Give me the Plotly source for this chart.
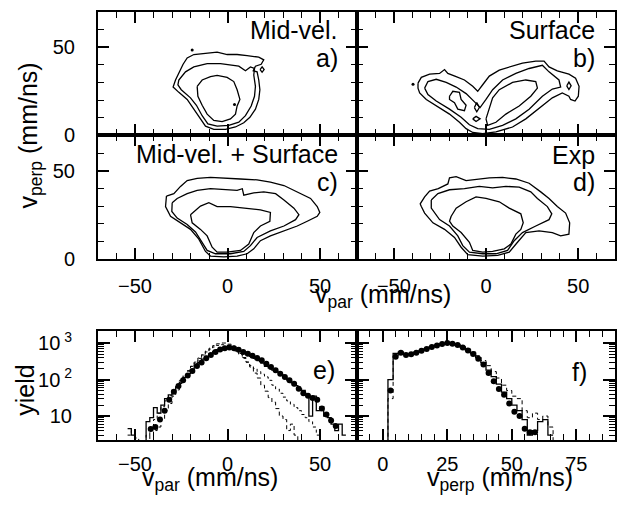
import plotly.graph_objects as go

# ---------------- contour data (v_par, v_perp) in mm/ns ----------------
a_outer = [(-24.0,40.3),(-21.8,43.9),(-18.2,45.8),(-12.8,46.5),(-5.6,47.1),(-0.2,45.8),(5.2,45.8),(10.6,45.2),
           (16.9,44.3),(19.6,42.8),(18.2,40.3),(15.1,39.2),(13.9,36.6),(16.0,36.0),(16.9,31.4),(17.5,25.9),
           (16.9,20.4),(15.1,14.9),(12.1,10.3),(8.8,7.2),(4.3,4.8),(-1.1,3.5),(-7.4,3.5),(-11.9,5.3),(-14.6,9.4),
           (-17.8,14.9),(-21.8,20.4),(-26.3,24.4),(-29.4,27.4),(-28.1,31.4),(-25.8,36.0)]
a_mid = [(-26.3,31.4),(-22.7,36.0),(-18.2,38.8),(-11.0,40.6),(-3.8,40.6),(1.6,39.7),(6.1,39.2),(9.7,36.6),
         (12.4,38.8),(14.6,37.9),(14.2,34.2),(15.1,27.8),(14.6,22.2),(12.8,16.7),(9.7,11.2),(6.1,7.5),(0.7,5.7),
         (-5.6,5.3),(-10.6,6.6),(-13.7,11.2),(-16.8,17.1),(-20.0,21.3),(-25.0,25.9),(-26.8,28.7)]
a_inner = [(-16.4,27.8),(-13.7,31.4),(-9.2,33.3),(-5.6,34.0),(-0.2,32.9),(3.4,30.5),(5.2,25.9),(6.7,20.4),
           (5.2,16.7),(4.3,12.1),(1.6,9.4),(-2.9,7.9),(-7.4,8.5),(-11.0,12.1),(-13.7,17.1),(-16.0,22.2)]
a_bubble = [(17.6,37.3),(18.7,38.8),(19.8,37.3),(18.7,35.8)]
a_dots = [(3.8,17.5),(-19.1,48.3)]

b_outer = [(-36.9,29.6),(-35.1,32.9),(-30.6,34.7),(-25.2,35.1),(-22.5,37.3),(-20.7,35.1),(-16.2,33.3),(-11.7,31.4),
           (-7.2,27.8),(-4.5,25.0),(-1.8,28.7),(1.8,33.6),(7.2,37.0),(14.4,39.2),(19.8,41.0),(27.0,42.1),(31.5,42.1),
           (34.2,38.8),(38.7,36.6),(45.0,34.7),(48.6,32.4),(50.5,27.8),(50.1,22.2),(48.3,19.5),(45.9,20.4),(45.0,22.2),
           (41.4,24.1),(36.0,21.3),(28.8,15.1),(21.6,9.4),(14.4,4.8),(5.4,2.0),(-1.8,1.1),(-7.2,1.7),(-10.8,3.9),
           (-14.4,7.5),(-19.8,12.1),(-27.0,16.7),(-32.4,20.4),(-36.0,24.1),(-36.9,26.8)]
b_mid = [(-33.3,26.8),(-31.5,30.5),(-27.0,31.8),(-21.6,30.0),(-16.2,27.4),(-10.8,23.7),(-5.8,18.6),(-3.2,15.8),
         (0.0,20.4),(3.6,25.9),(9.0,31.4),(16.2,35.1),(23.4,37.9),(30.6,39.7),(34.2,36.0),(39.6,31.4),(40.5,27.4),
         (36.0,26.3),(30.6,22.2),(23.4,14.9),(16.2,9.4),(9.0,5.7),(1.8,3.5),(-4.5,3.9),(-9.0,6.1),(-13.5,10.3),
         (-19.8,14.9),(-27.0,19.5),(-31.5,23.2)]
b_inner_left = [(-19.8,22.2),(-18.0,25.0),(-14.4,24.4),(-13.5,20.4),(-10.8,17.1),(-11.7,14.0),(-15.3,14.9),
                (-17.1,18.6),(-19.8,20.4)]
b_diamond = [(-6.3,15.8),(-5.0,18.6),(-3.6,15.8),(-5.0,13.4)]
b_oval = [(-7.2,9.4),(-5.4,10.8),(-3.2,9.4),(-5.4,7.9)]
b_inner_right = [(0.0,9.4),(1.8,14.9),(3.6,21.3),(7.2,25.9),(14.4,30.0),(21.6,31.4),(27.0,30.5),(27.9,26.8),
                 (24.3,22.2),(18.0,16.7),(10.8,12.1),(5.4,7.5),(0.9,5.7)]
b_ring = [(43.8,28.1),(45.0,30.2),(46.2,28.1),(45.0,26.0)]
b_dots = [(-39.6,29.0)]

c_outer = [(-33.0,35.7),(-33.5,29.8),(-30.8,24.3),(-25.4,20.6),(-20.0,16.9),(-15.5,11.4),(-11.9,4.4),(-9.2,1.8),
           (-2.0,1.3),(5.2,1.8),(10.6,3.1),(14.2,5.9),(17.8,10.5),(23.2,13.2),(30.5,16.0),(37.7,18.8),(43.1,21.5),
           (48.5,24.3),(49.9,26.5),(48.5,29.8),(44.9,34.4),(41.3,36.2),(35.9,39.0),(30.5,41.7),(23.2,43.6),
           (16.0,44.9),(7.0,45.4),(-2.0,45.9),(-9.2,46.3),(-16.4,45.8),(-21.8,44.5),(-25.4,41.2),(-29.0,37.1)]
c_mid = [(-29.9,32.0),(-30.1,27.0),(-27.2,23.3),(-21.8,19.7),(-17.3,15.4),(-14.2,10.5),(-11.0,5.0),(-6.5,3.1),
         (1.6,3.1),(8.8,4.4),(12.4,7.7),(16.0,12.3),(23.2,16.0),(30.5,18.8),(36.8,22.4),(38.6,25.2),(35.9,28.9),
         (30.5,33.5),(26.0,37.1),(19.6,38.1),(14.2,37.5),(8.8,36.2),(8.0,39.9),(5.2,39.0),(-2.0,39.3),(-9.2,39.9),
         (-16.4,39.0),(-21.8,37.1),(-27.2,34.4)]
c_inner = [(-20.0,25.2),(-17.3,27.9),(-14.6,30.1),(-10.1,32.0),(-5.6,29.8),(1.6,29.8),(8.8,28.9),(17.8,27.9),
           (23.2,26.5),(22.9,21.5),(17.8,18.8),(14.2,15.1),(11.5,8.6),(7.0,5.0),(-0.2,4.0),(-5.6,4.0),(-8.3,6.8),
           (-11.0,13.2),(-14.6,16.9),(-19.1,20.6)]

d_outer = [(-35.1,29.8),(-33.3,26.1),(-28.8,20.6),(-22.5,16.9),(-17.1,12.3),(-13.5,6.8),(-9.9,2.6),(-1.8,1.8),
           (6.3,2.2),(12.6,4.0),(17.1,9.6),(21.6,15.1),(28.8,16.0),(36.0,15.1),(40.5,13.2),(45.0,14.2),(45.4,20.6),
           (43.2,26.1),(38.7,29.8),(34.2,34.4),(29.7,38.1),(23.4,43.0),(16.2,45.4),(9.0,46.3),(1.8,46.0),(-4.5,45.4),
           (-10.8,44.5),(-16.2,46.7),(-19.8,46.0),(-20.7,42.6),(-25.9,39.9),(-30.6,38.6),(-33.3,35.3),(-35.7,31.3)]
d_mid = [(-29.7,33.5),(-29.7,28.9),(-25.2,22.4),(-19.8,18.8),(-15.3,13.2),(-12.6,7.7),(-9.0,4.0),(-1.8,3.1),
         (5.4,3.1),(11.7,5.0),(15.3,10.5),(19.8,15.1),(27.0,18.8),(34.2,22.4),(35.7,25.7),(33.3,29.8),(27.9,34.4),
         (24.3,38.1),(18.0,40.8),(10.8,41.2),(3.6,40.4),(-3.6,41.2),(-11.7,39.9),(-19.8,39.3),(-26.1,37.1)]
d_inner = [(-18.9,24.3),(-16.2,28.9),(-10.8,32.5),(-5.4,35.3),(0.0,34.4),(7.2,32.5),(12.6,28.9),(18.9,25.7),
           (20.2,20.6),(18.9,16.9),(16.2,14.2),(13.5,8.6),(9.9,5.9),(3.6,4.4),(-1.8,4.0),(-7.2,5.0),(-9.0,9.6),
           (-13.5,15.1),(-18.0,18.8),(-19.8,21.5)]

# ---------------- 1D spectra ----------------
e_dot_x = [-41.5,-39,-36.5,-34,-31.5,-29,-26.5,-24,-21.5,-19,-16.5,-14,-11.5,-9,-6.5,-4,-1.5,1,3.5,6,8.5,11,
           13.5,16,18.5,21,23.5,26,28.5,31,33.5,36,38.5,41,43.5,46,48.5,51,53.5,56,58.5]
e_dot_y = [4.4,5,8,14,28,46,66,95,128,170,235,295,380,470,570,660,720,750,720,650,570,510,450,390,340,270,220,
           180,145,118,95,77,56,42,36,31,28,16,11,7.5,5.3]

e_solid_lo = -54
e_solid = [4.5,3,1,1,1,7,9,17,12,20,30,38,50,62,85,115,145,190,240,290,360,430,510,590,660,700,740,
           750,720,660,600,540,480,430,380,330,280,230,210,180,160,135,115,98,82,68,55,50,40,10,35,14,18,10,9,6,4,6,3]
e_dash_lo = -46
e_dash = [1,1,3,4,5,8,14,22,35,52,78,120,170,230,300,390,480,600,720,850,950,1000,1000,
          930,820,680,520,400,300,220,150,110,70,48,32,24,16,10,8,4,6,3,1]
e_dot_lo = -54
e_dotted = [3,4,2.5,1,1,3,5,8,12,18,26,36,50,70,95,130,175,230,300,380,470,570,680,780,860,900,880,
            820,720,600,480,380,300,240,200,165,140,118,95,70,55,42,33,26,21,17,14,11,9,7,5,3,1]

f_dot_x = [3,5,7,9,11,13,15,17,19,21,23,25,27,29,31,33,35,37,39,41,43,45,47,49,51,53,55,57,59]
f_dot_y = [50,420,540,470,490,540,610,690,780,860,940,1000,960,880,760,620,500,370,260,150,90,55,38,22,13,10,
           4.5,3.6,3.6]
f_solid_lo = 0
f_solid = [1,100,520,560,500,500,560,620,700,790,870,950,1000,960,880,760,640,520,400,290,180,120,75,45,30,
           20,14,8,3,4,7,8,3]
f_dash_lo = 0
f_dash = [1,30,450,520,480,480,530,600,680,770,860,940,980,960,900,800,690,570,450,330,240,165,110,70,50,35,
          30,14,9,12,8,10,5,1]
bin_width = 2

FONT = "Liberation Sans, Arial, sans-serif"
BLACK = "black"

fig = go.Figure()

def add_path(pts, ax, closed=True, width=1.3):
    xs = [p[0] for p in pts]
    ys = [p[1] for p in pts]
    if closed:
        xs = xs + xs[:1]
        ys = ys + ys[:1]
    fig.add_trace(go.Scatter(x=xs, y=ys, mode="lines", line=dict(color=BLACK, width=width),
                             xaxis="x" + ax, yaxis="y" + ax, showlegend=False, hoverinfo="skip"))

def add_dots(pts, ax, size=3):
    fig.add_trace(go.Scatter(x=[p[0] for p in pts], y=[p[1] for p in pts], mode="markers",
                             marker=dict(color=BLACK, size=size), xaxis="x" + ax, yaxis="y" + ax,
                             showlegend=False, hoverinfo="skip"))

for pts in (a_outer, a_mid, a_inner, a_bubble):
    add_path(pts, "")
add_dots(a_dots, "")
for pts in (b_outer, b_mid, b_inner_left, b_diamond, b_oval, b_inner_right, b_ring):
    add_path(pts, "2")
add_dots(b_dots, "2")
for pts in (c_outer, c_mid, c_inner):
    add_path(pts, "3")
for pts in (d_outer, d_mid, d_inner):
    add_path(pts, "4")

def add_step(lo, vals, ax, dash, width=1.2):
    xs = [lo + bin_width * i for i in range(len(vals) + 1)]
    ys = list(vals) + [vals[-1]]
    fig.add_trace(go.Scatter(x=xs, y=ys, mode="lines", line=dict(color=BLACK, width=width, dash=dash, shape="hv"),
                             xaxis="x" + ax, yaxis="y" + ax, showlegend=False, hoverinfo="skip"))

add_step(e_dot_lo, e_dotted, "5", "dot", 1.0)
add_step(e_dash_lo, e_dash, "5", "4px,3px", 1.0)
add_step(e_solid_lo, e_solid, "5", "solid", 1.3)
fig.add_trace(go.Scatter(x=e_dot_x, y=e_dot_y, mode="markers", marker=dict(color=BLACK, size=6),
                         xaxis="x5", yaxis="y5", showlegend=False))
add_step(f_dash_lo, f_dash, "6", "4px,3px", 1.0)
add_step(f_solid_lo, f_solid, "6", "solid", 1.3)
fig.add_trace(go.Scatter(x=f_dot_x, y=f_dot_y, mode="markers", marker=dict(color=BLACK, size=6),
                         xaxis="x6", yaxis="y6", showlegend=False))

# ---------------- axes ----------------
XL, XM, XR = 98 / 618, 357 / 618, 615 / 618
R1 = [1 - 137 / 508, 1 - 10 / 508]
R2 = [1 - 264 / 508, 1 - 137 / 508]
R3 = [1 - 450 / 508, 1 - 338 / 508]
tickfont = dict(family=FONT, size=20, color=BLACK)

def lin_axis(domain, rng, dtick, minor_dtick, anchor, labels, standoff):
    return dict(domain=domain, range=rng, anchor=anchor, showline=True, linecolor=BLACK, linewidth=2,
                mirror="ticks", ticks="inside", ticklen=11, tickwidth=1.5, tickcolor=BLACK,
                tick0=0, dtick=dtick, showticklabels=labels, tickfont=tickfont, showgrid=False,
                zeroline=False, ticklabelstandoff=standoff,
                minor=dict(ticks="inside", ticklen=6, tickwidth=1.2, tickcolor=BLACK, dtick=minor_dtick,
                           tick0=0, showgrid=False))

def log_axis(domain, anchor, labels):
    return dict(domain=domain, type="log", range=[0.33, 3.32], anchor=anchor, showline=True, linecolor=BLACK,
                linewidth=2, mirror="ticks", ticks="inside", ticklen=12, tickwidth=1.5, tickcolor=BLACK,
                tickvals=[10, 100, 1000], ticktext=["10", "10<sup> 2</sup>", "10<sup> 3</sup>"],
                showticklabels=labels, tickfont=tickfont, showgrid=False, zeroline=False, ticklabelstandoff=20,
                minor=dict(ticks="inside", ticklen=6, tickwidth=1, tickcolor=BLACK, dtick="D1", showgrid=False))

fig.update_layout(
    xaxis=lin_axis([XL, XM], [-70, 70], 50, 10, "y", False, 8),
    yaxis=lin_axis(R1, [0, 70], 50, 10, "x", True, 17),
    xaxis2=lin_axis([XM, XR], [-70, 70], 50, 10, "y2", False, 8),
    yaxis2=lin_axis(R1, [0, 70], 50, 10, "x2", False, 17),
    xaxis3=lin_axis([XL, XM], [-70, 70], 50, 10, "y3", True, 8),
    yaxis3=lin_axis(R2, [0, 70], 50, 10, "x3", True, 17),
    xaxis4=lin_axis([XM, XR], [-70, 70], 50, 10, "y4", True, 8),
    yaxis4=lin_axis(R2, [0, 70], 50, 10, "x4", False, 17),
    xaxis5=lin_axis([XL, XM], [-70, 70], 50, 10, "y5", True, 5),
    yaxis5=log_axis(R3, "x5", True),
    xaxis6=lin_axis([XM, XR], [-10, 90], 25, 5, "y6", True, 5),
    yaxis6=log_axis(R3, "x6", False),
)

def ann(text, px, py, size=25, xanchor="center", angle=0):
    fig.add_annotation(text=text, x=px / 618, y=1 - py / 508, xref="paper", yref="paper", showarrow=False,
                       xanchor=xanchor, yanchor="middle", textangle=angle,
                       font=dict(family=FONT, size=size, color=BLACK))

ann("Mid-vel.", 340, 29, xanchor="right")
ann("a)", 340, 57, xanchor="right")
ann("Surface", 597, 29, xanchor="right")
ann("b)", 597, 57, xanchor="right")
ann("Mid-vel. + Surface", 340, 156, xanchor="right")
ann("c)", 340, 185, xanchor="right")
ann("Exp", 597, 157, xanchor="right")
ann("d)", 597, 185, xanchor="right")
ann("e)", 337, 378, xanchor="right")
ann("f)", 589, 380, xanchor="right")

ann("v<sub>perp</sub> (mm/ns)", 30, 137, size=25, angle=-90)
ann("v<sub>par</sub> (mm/ns)", 383, 302, size=25)
ann("yield", 25, 399, size=25, angle=-90)
ann("v<sub>par</sub> (mm/ns)", 210, 490, size=25)
ann("v<sub>perp</sub> (mm/ns)", 500, 490, size=25)

fig.update_layout(width=618, height=508, autosize=False, margin=dict(l=0, r=0, t=0, b=0),
                  paper_bgcolor="white", plot_bgcolor="white", font=dict(family=FONT, color=BLACK))
fig.write_html("out.html", config={"displayModeBar": False},
               post_script="document.body.style.margin='0';document.body.style.padding='0';")
